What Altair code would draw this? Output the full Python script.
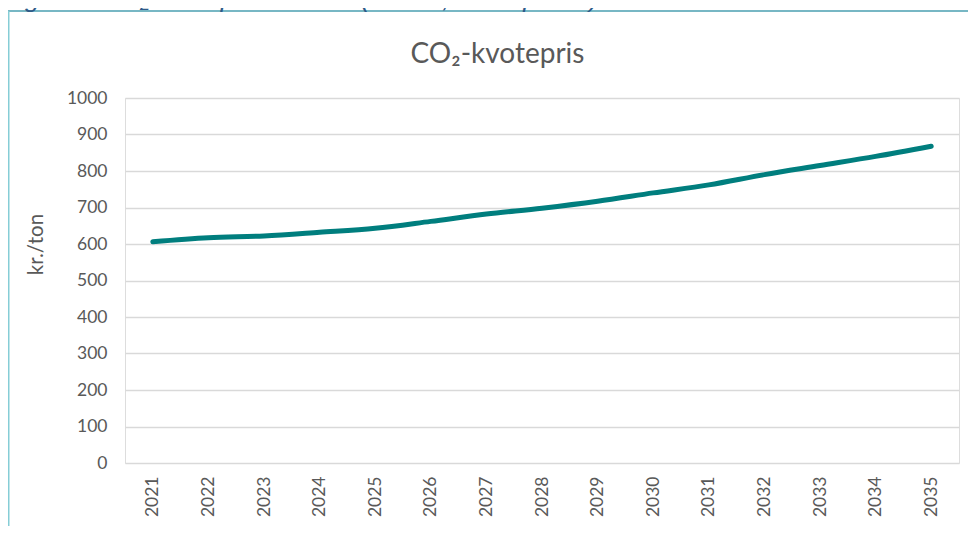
import altair as alt
import pandas as pd

# ---- data ----
years = ["2021", "2022", "2023", "2024", "2025", "2026", "2027", "2028",
         "2029", "2030", "2031", "2032", "2033", "2034", "2035"]
price = [606, 617, 622, 632, 643, 662, 682, 698, 717, 740, 762, 790, 815, 840, 868]
y_ticks = list(range(0, 1001, 100))
chart_title = "CO\u2082-kvotepris"
y_title = "kr./ton"
caption = "Figur 1: CO\u2082 kvotepris FRP22 (kr./ton, 2021 priser)."

df = pd.DataFrame({"year": years, "price": price})

TXT = "#595959"
FONT = "Lato"

line = alt.Chart(df).mark_line(
    color="#007E7E", strokeWidth=5, strokeCap="round", strokeJoin="round",
    interpolate="monotone",
).encode(
    x=alt.X("year:N", sort=years, scale=alt.Scale(padding=0.5),
            axis=alt.Axis(title=None, labelAngle=270, labelFont=FONT, labelFontSize=17.5,
                          labelColor=TXT, labelPadding=13, ticks=False, domain=False,
                          grid=False)),
    y=alt.Y("price:Q", scale=alt.Scale(domain=[0, 1000], nice=False),
            axis=alt.Axis(values=y_ticks, format="d", title=y_title, labelFont=FONT,
                          labelFontSize=17.5, labelColor=TXT, labelPadding=18, ticks=False,
                          domain=False, grid=True, gridColor="#D9D9D9", gridWidth=1.5,
                          titleFont=FONT, titleFontSize=20.5, titleColor=TXT,
                          titleFontWeight="normal", titleAngle=270, titleX=-83, titleY=146,
                          titleAlign="center", titleBaseline="alphabetic")),
)

one = pd.DataFrame({"t": [0]})

title_txt = alt.Chart(pd.DataFrame({"t": [chart_title]})).mark_text(
    font=FONT, fontSize=28, color=TXT, align="center", baseline="alphabetic",
).encode(text="t:N", x=alt.value(372.5), y=alt.value(-35))

caption_txt = alt.Chart(pd.DataFrame({"t": [caption]})).mark_text(
    font="Liberation Sans", fontSize=26.5, fontStyle="italic", color="#2E5A88",
    align="left", baseline="alphabetic",
).encode(text="t:N", x=alt.value(-122), y=alt.value(-91))

top_rule = alt.Chart(one).mark_rule(color="#4A9FB0", strokeWidth=1.5).encode(
    x=alt.value(-117), x2=alt.value(860), y=alt.value(-87))
left_rule = alt.Chart(one).mark_rule(color="#86CDD6", strokeWidth=2).encode(
    x=alt.value(-116.5), y=alt.value(-87), y2=alt.value(440))

chart = alt.layer(top_rule, left_rule, line, title_txt, caption_txt).properties(
    width=834, height=365,
    autosize=alt.AutoSizeParams(type="none"),
    padding={"left": 117, "top": 90, "right": 9, "bottom": 63},
).configure_view(stroke=None).configure(background="white")

chart.save("out.html", embed_options={"renderer": "svg", "actions": False})
